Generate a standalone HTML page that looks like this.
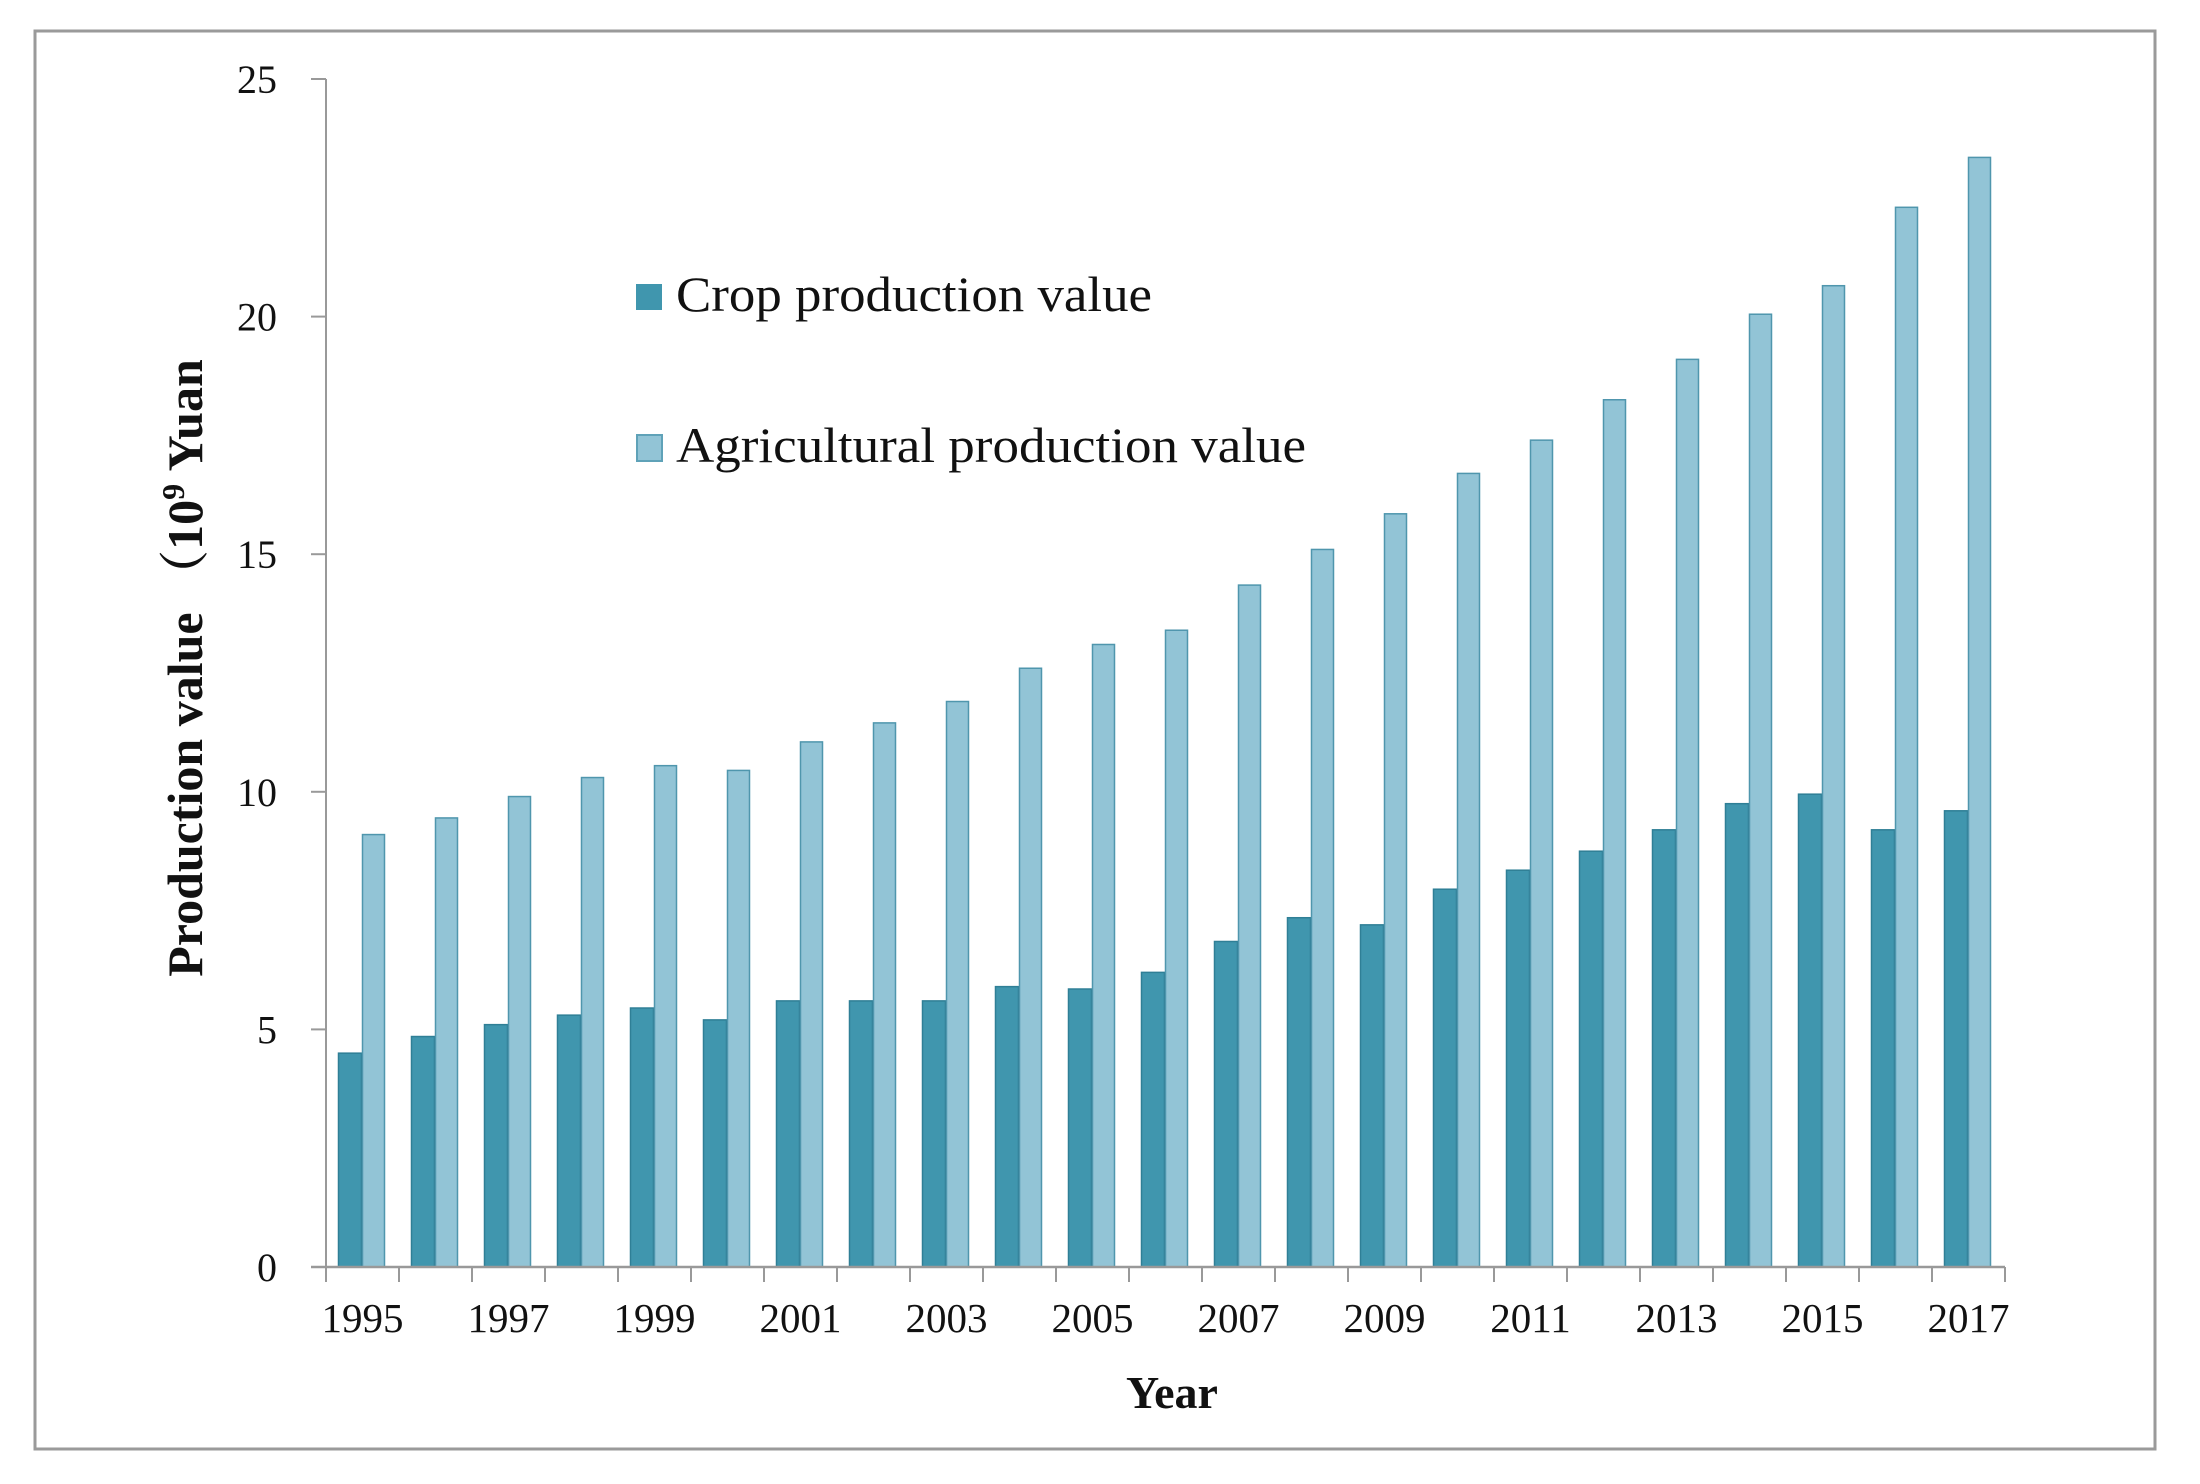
<!DOCTYPE html>
<html><head><meta charset="utf-8"><style>
html,body{margin:0;padding:0;background:#fff;}
svg{display:block;}
text{font-family:"Liberation Serif","Noto Serif CJK SC",serif;fill:#111;}
</style></head><body>
<svg id="chart" width="2200" height="1484" viewBox="0 0 2200 1484">
<rect x="35" y="31" width="2120" height="1418" fill="#fff" stroke="#9a9a9a" stroke-width="3"/>
<g id="plot"></g>
<text x="202" y="668" font-size="50" font-weight="bold" text-anchor="middle" transform="rotate(-90 202 668)">Production value （10<tspan baseline-shift="super" font-size="32">9</tspan> Yuan</text>
<text x="1172" y="1408" font-size="46" font-weight="bold" text-anchor="middle">Year</text>
<g>
<g>
<rect x="636" y="284" width="26" height="26" fill="#4096ae"/>
<text x="676" y="311" font-size="50" textLength="476" lengthAdjust="spacingAndGlyphs">Crop production value</text>
</g>
<g>
<rect x="637" y="435" width="25" height="26" fill="#92c4d6" stroke="#5fa2b8" stroke-width="2"/>
<text x="676" y="462" font-size="50" textLength="630" lengthAdjust="spacingAndGlyphs">Agricultural production value</text>
</g>
</g>
</svg>
<script>
const years = [1995,1996,1997,1998,1999,2000,2001,2002,2003,2004,2005,2006,2007,2008,2009,2010,2011,2012,2013,2014,2015,2016,2017];
const cropValues = [4.5,4.85,5.1,5.3,5.45,5.2,5.6,5.6,5.6,5.9,5.85,6.2,6.85,7.35,7.2,7.95,8.35,8.75,9.2,9.75,9.95,9.2,9.6];
const agriValues = [9.1,9.45,9.9,10.3,10.55,10.45,11.05,11.45,11.9,12.6,13.1,13.4,14.35,15.1,15.85,16.7,17.4,18.25,19.1,20.05,20.65,22.3,23.35];
const yTicks = [0,5,10,15,20,25];
const xLabelYears = [1995,1997,1999,2001,2003,2005,2007,2009,2011,2013,2015,2017];

const NS = "http://www.w3.org/2000/svg";
const plot = document.getElementById('plot');
const X0 = 326, X1 = 2005, Y0 = 1267, Y1 = 79, YMAX = 25;
const band = (X1 - X0) / years.length;
const yScale = v => Y0 - (v / YMAX) * (Y0 - Y1);
const xCenter = i => X0 + band * (i + 0.5);
function mk(tag, attrs) { const e = document.createElementNS(NS, tag); for (const k in attrs) e.setAttribute(k, attrs[k]); plot.appendChild(e); return e; }

years.forEach((yr, i) => {
  const c = xCenter(i);
  const b1 = mk('rect', {x: c - 24, y: yScale(cropValues[i]), width: 23, height: Y0 - yScale(cropValues[i]), fill: '#4096ae', stroke: '#2f7f96', 'stroke-width': 1.5});
  
  
  const b2 = mk('rect', {x: c, y: yScale(agriValues[i]), width: 22, height: Y0 - yScale(agriValues[i]), fill: '#92c4d6', stroke: '#4f96ad', 'stroke-width': 1.5});
  
  
});

const ya = mk('line', {x1: X0, y1: Y1, x2: X0, y2: Y0, stroke: '#999', 'stroke-width': 2});


const xa = mk('line', {x1: X0 - 15, y1: Y0, x2: X1, y2: Y0, stroke: '#999', 'stroke-width': 2.5});



yTicks.forEach(v => {
  const t = mk('line', {x1: X0 - 15, y1: yScale(v), x2: X0, y2: yScale(v), stroke: '#999', 'stroke-width': 2});
  
  
  const l = mk('text', {x: 277, y: yScale(v) + 14, 'font-size': 40, 'text-anchor': 'end'});
  l.textContent = v;
  
  
});

for (let i = 0; i <= years.length; i++) {
  const x = X0 + band * i;
  const t = mk('line', {x1: x, y1: Y0, x2: x, y2: Y0 + 15, stroke: '#999', 'stroke-width': 2});
  
  
}
xLabelYears.forEach(yr => {
  const i = years.indexOf(yr);
  const l = mk('text', {x: xCenter(i), y: 1332, 'font-size': 41, 'text-anchor': 'middle'});
  l.textContent = yr;
  
  
});
</script>
</body></html>
